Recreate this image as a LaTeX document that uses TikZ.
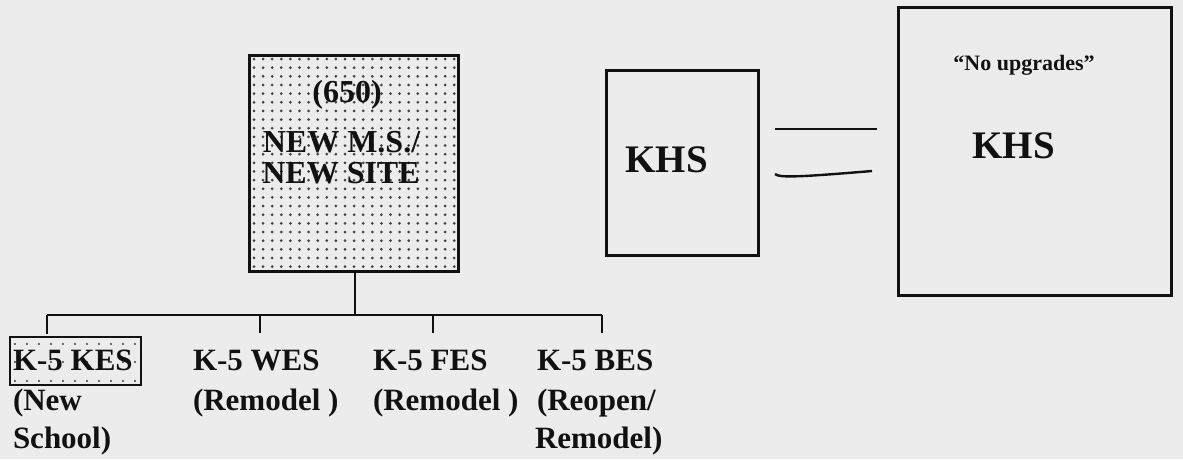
\documentclass[tikz,border=0pt]{standalone}
\usepackage{fontspec}
\setmainfont{Liberation Serif}
\definecolor{ink}{HTML}{111111}
\definecolor{paper}{HTML}{ECECEC}
\begin{document}
\begin{tikzpicture}[x=1pt,y=-1pt,
  every node/.style={inner sep=0pt, outer sep=0pt},
  frame/.style={draw=ink, line width=3pt},
  thinframe/.style={draw=ink, line width=1.5pt},
  conn/.style={draw=ink, line width=2.4pt},
  dot/.style={fill=ink!80},
  lbl/.style={font=\bfseries\fontsize{31}{31}\selectfont, anchor=base west, text=ink},
  mstext/.style={font=\bfseries\fontsize{32}{32}\selectfont, anchor=base, text=ink},
  khs/.style={font=\bfseries\fontsize{39}{39}\selectfont, anchor=base, text=ink},
  note/.style={font=\bfseries\fontsize{22}{22}\selectfont, anchor=base, text=ink},
]
\fill[paper] (0,0) rectangle (1183,459);
\useasboundingbox (0,0) rectangle (1183,459);

% dotted box
\foreach \i in {0,...,22} \foreach \j in {0,...,24}
  \fill[dot] (254+\i*9.1, 59+\j*8.65) circle (1.5);
\node[frame, minimum width=209pt, minimum height=216pt] (ms) at (353.5,163) {};
\node[mstext] (ms650) at (347,102) {(650)};
\node[mstext] (msl1) at (341.5,152) {NEW M.S./};
\node[mstext] (msl2) at (341,183) {NEW SITE};

% middle KHS
\node[frame, minimum width=152pt, minimum height=185pt] (khs1) at (682,162.5) {};
\node[khs] (khs1t) at (666.5,172) {KHS};

% two lines between
\coordinate (l1a) at (775,129);
\coordinate (l1b) at (877,129);
\draw[conn] (l1a) -- (l1b);
\coordinate (l2a) at (775,174);
\coordinate (l2b) at (872,171);
\draw[conn] (l2a) .. controls (779,178) and (800,177) .. (l2b);

% right KHS
\node[frame, minimum width=273pt, minimum height=288pt] (khs2) at (1034.5,151) {};
\node[note] (noup) at (1024,70) {``No upgrades''};
\node[khs] (khs2t) at (1013.5,158) {KHS};

% tree
\coordinate (hub) at (355,315);
\coordinate (busL) at (47,315);
\coordinate (busR) at (602,315);
\coordinate (t1) at (47,334);
\coordinate (t2) at (260,333);
\coordinate (t3) at (433,333);
\coordinate (t4) at (602,333);
\draw[conn] (ms.south -| hub) -- (hub);
\draw[conn] (busL) -- (busR);
\draw[conn] (busL) -- (t1);
\draw[conn] (t2 |- hub) -- (t2);
\draw[conn] (t3 |- hub) -- (t3);
\draw[conn] (busR) -- (t4);

% KES box
\foreach \i in {0,...,10} \foreach \y in {344,362,381}
  \fill[dot] (15+\i*12,\y) circle (1.2);
\node[thinframe, minimum width=131pt, minimum height=48pt] (kes) at (75.5,361) {};
\node[lbl] (kest) at (13,370) {K-5 KES};
\node[lbl] (kes2) at (13,410) {(New};
\node[lbl] (kes3) at (13,448) {School)};

\node[lbl] (wes) at (193,370) {K-5 WES};
\node[lbl] (wes2) at (193,410) {(Remodel )};

\node[lbl] (fes) at (373,370) {K-5 FES};
\node[lbl] (fes2) at (373,410) {(Remodel )};

\node[lbl] (bes) at (537,370) {K-5 BES};
\node[lbl] (bes2) at (537,410) {(Reopen/};
\node[lbl] (bes3) at (535,448) {Remodel)};
\end{tikzpicture}
\end{document}
